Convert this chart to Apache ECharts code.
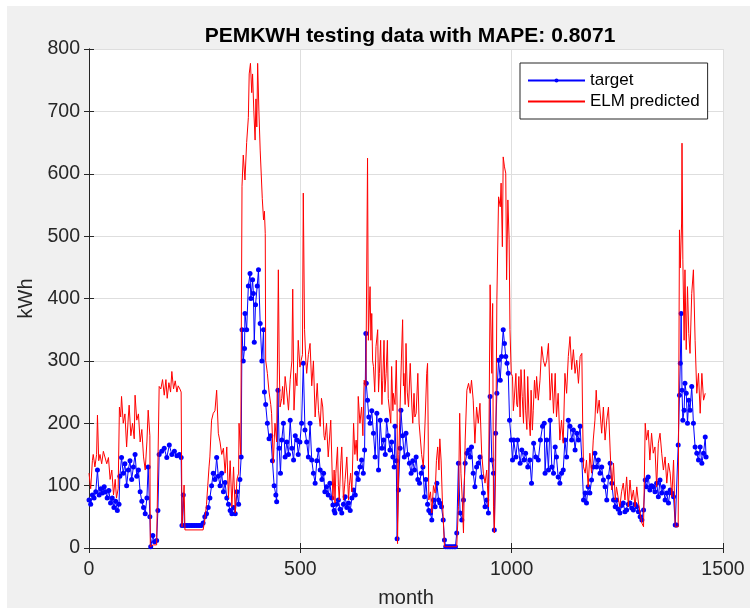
<!DOCTYPE html>
<html><head><meta charset="utf-8">
<script src="https://cdn.jsdelivr.net/npm/echarts@6/dist/echarts.min.js"></script>
<style>html,body{margin:0;padding:0;background:#fff}#c{width:750px;height:610px}</style>
</head><body><div id="c"></div><script>
const titleText = 'PEMKWH testing data with MAPE: 0.8071';
const xTicks = [0, 500, 1000, 1500];
const yTicks = [0, 100, 200, 300, 400, 500, 600, 700, 800];
// [month, kWh]
const target = [
[0,77],[4,70],[8,85],[12,80],[16,90],[20,125],[24,85],[28,95],[32,88],[36,98],[39,90],[43,80],[47,92],[51,72],[55,80],[59,65],[63,75],[67,60],[71,70],[73,115],[77,145],[81,120],[85,135],[89,100],[93,125],[97,140],[101,110],[105,130],[109,150],[113,115],[117,125],[121,90],[125,75],[129,65],[133,55],[137,80],[140,130],[144,50],[146,2],[151,20],[155,10],[160,12],[163,60],[166,150],[172,155],[178,160],[184,145],[190,165],[196,150],[202,155],[208,148],[214,150],[218,145],[220,36],[223,85],[226,36],[230,36],[234,36],[238,36],[242,36],[246,36],[250,36],[254,36],[258,36],[262,36],[266,36],[270,40],[274,50],[278,55],[282,65],[286,80],[290,100],[294,120],[298,110],[302,145],[306,115],[310,100],[314,120],[318,90],[322,105],[326,80],[330,70],[334,60],[338,55],[342,65],[346,55],[350,90],[354,70],[357,110],[360,146],[362,350],[365,300],[368,320],[369,376],[373,350],[377,420],[381,440],[383,400],[387,430],[389,408],[391,330],[394,390],[398,420],[401,446],[405,360],[409,300],[413,350],[415,250],[418,230],[422,200],[426,175],[430,180],[434,140],[438,100],[442,85],[444,74],[447,253],[450,160],[453,120],[456,173],[460,200],[464,146],[468,170],[472,150],[476,205],[480,160],[484,141],[488,180],[492,173],[495,150],[499,170],[503,200],[507,296],[511,189],[515,170],[519,146],[523,200],[527,141],[531,120],[535,104],[539,140],[543,157],[547,125],[551,110],[555,120],[558,90],[562,98],[566,85],[570,104],[574,80],[577,69],[580,60],[582,56],[586,70],[590,77],[594,62],[598,56],[602,70],[606,82],[610,65],[614,72],[618,60],[622,80],[626,93],[630,85],[633,120],[637,110],[641,130],[645,141],[649,120],[652,157],[655,344],[656,264],[659,237],[662,210],[665,200],[669,220],[673,184],[677,146],[681,216],[685,125],[689,205],[693,160],[697,173],[701,150],[704,205],[708,180],[712,157],[716,170],[719,146],[722,130],[724,195],[727,140],[729,15],[732,93],[736,160],[738,221],[742,180],[746,146],[750,184],[754,150],[758,136],[762,120],[766,140],[770,125],[774,146],[778,110],[782,104],[786,120],[790,130],[794,82],[797,110],[801,70],[804,60],[808,56],[811,45],[815,77],[819,66],[823,104],[827,77],[830,72],[834,66],[838,45],[841,13],[844,2],[848,2],[852,2],[856,2],[860,2],[864,2],[867,2],[870,24],[874,136],[878,56],[882,45],[886,77],[890,136],[894,152],[898,157],[902,146],[905,162],[909,120],[913,98],[917,130],[921,136],[925,146],[929,114],[933,88],[937,66],[941,77],[945,56],[949,243],[953,141],[957,120],[959,29],[962,184],[965,248],[969,301],[973,269],[976,307],[980,350],[983,328],[986,307],[989,296],[992,280],[995,205],[999,173],[1002,141],[1005,173],[1010,146],[1014,173],[1020,136],[1024,157],[1029,141],[1033,152],[1038,130],[1043,141],[1047,104],[1052,168],[1057,146],[1063,141],[1068,173],[1073,195],[1077,200],[1079,120],[1083,173],[1087,125],[1091,205],[1095,130],[1099,120],[1103,162],[1106,146],[1110,114],[1114,104],[1118,120],[1122,125],[1126,173],[1130,146],[1134,205],[1138,195],[1142,173],[1146,189],[1150,157],[1154,184],[1158,173],[1162,195],[1166,141],[1170,77],[1174,88],[1177,72],[1181,98],[1185,88],[1189,109],[1193,130],[1197,152],[1201,130],[1205,141],[1209,120],[1213,130],[1217,109],[1221,98],[1225,77],[1229,114],[1233,136],[1237,104],[1241,77],[1245,66],[1248,77],[1252,62],[1256,56],[1260,68],[1264,72],[1268,58],[1272,61],[1276,70],[1280,72],[1284,64],[1288,61],[1292,70],[1296,66],[1300,58],[1304,50],[1308,45],[1312,61],[1316,109],[1319,98],[1323,114],[1327,93],[1331,100],[1335,98],[1339,90],[1343,104],[1347,82],[1351,109],[1355,88],[1359,98],[1363,77],[1367,88],[1371,72],[1375,93],[1379,88],[1383,82],[1387,37],[1390,37],[1394,165],[1397,245],[1399,296],[1401,376],[1403,253],[1405,205],[1408,221],[1410,264],[1413,248],[1416,200],[1419,237],[1422,221],[1426,259],[1430,200],[1434,162],[1438,152],[1442,141],[1446,162],[1450,136],[1454,152],[1458,178],[1460,146]
];
const predicted = [
[0,120],[4,95],[8,140],[10,150],[14,130],[18,150],[20,213],[23,140],[26,150],[30,135],[34,155],[38,157],[42,135],[46,145],[50,110],[54,125],[58,85],[62,110],[65,80],[69,95],[72,226],[75,210],[77,243],[81,200],[85,215],[89,162],[93,210],[95,229],[99,180],[103,200],[107,175],[109,245],[113,205],[117,215],[121,170],[125,190],[129,146],[133,125],[137,170],[140,221],[144,180],[145,2],[152,5],[160,5],[164,5],[166,259],[170,255],[174,270],[178,245],[182,270],[185,240],[189,265],[193,250],[196,283],[200,255],[204,268],[208,250],[211,260],[215,255],[218,250],[220,34],[225,101],[227,29],[270,29],[274,45],[278,70],[281,100],[284,130],[286,146],[290,205],[294,216],[298,220],[302,253],[306,184],[310,170],[314,150],[318,160],[322,120],[326,162],[330,80],[334,140],[338,66],[342,130],[346,56],[350,110],[354,120],[355,200],[359,150],[362,580],[365,630],[369,590],[373,650],[377,690],[379,760],[382,777],[385,730],[387,760],[390,700],[393,654],[395,720],[397,675],[399,777],[402,700],[405,638],[407,640],[410,560],[413,526],[415,540],[417,504],[418,301],[422,280],[426,250],[430,230],[432,216],[436,136],[440,200],[444,170],[448,446],[450,300],[452,226],[456,240],[458,259],[461,230],[464,275],[468,250],[472,221],[476,270],[480,300],[482,415],[485,221],[489,280],[492,260],[495,333],[499,290],[502,301],[505,310],[507,569],[510,350],[513,300],[515,280],[519,310],[523,328],[527,260],[531,300],[535,210],[540,264],[543,220],[547,195],[550,240],[553,226],[556,180],[558,173],[562,200],[566,146],[572,205],[577,77],[580,125],[582,72],[584,120],[588,162],[590,100],[592,77],[596,140],[598,162],[602,77],[606,110],[610,146],[614,77],[616,100],[619,120],[622,90],[626,200],[629,150],[632,173],[635,140],[637,243],[641,200],[645,226],[648,180],[651,269],[655,259],[659,625],[661,333],[663,380],[665,419],[667,333],[669,376],[671,300],[673,291],[676,250],[679,323],[683,350],[685,250],[687,280],[690,333],[693,230],[695,269],[698,333],[700,250],[703,280],[706,333],[708,240],[711,243],[714,200],[716,291],[719,220],[720,248],[724,230],[727,301],[729,226],[730,7],[733,150],[736,226],[739,300],[742,366],[744,260],[745,280],[748,230],[750,328],[753,250],[756,226],[760,296],[764,226],[766,200],[769,248],[771,210],[774,216],[778,280],[781,200],[783,200],[787,150],[791,130],[795,200],[799,280],[801,296],[804,77],[808,90],[811,56],[815,100],[819,88],[822,140],[825,162],[828,125],[830,175],[833,141],[836,77],[838,50],[841,2],[850,2],[858,2],[870,2],[874,66],[877,216],[880,120],[883,80],[886,24],[888,100],[890,173],[894,253],[898,264],[902,248],[905,269],[909,237],[913,168],[917,226],[921,200],[925,232],[929,152],[933,120],[937,104],[941,125],[945,66],[949,422],[953,280],[955,392],[957,66],[959,24],[962,120],[965,398],[969,563],[973,547],[975,585],[978,483],[980,627],[983,611],[986,601],[988,430],[991,558],[994,494],[996,350],[999,280],[1002,275],[1004,220],[1006,237],[1010,280],[1012,230],[1014,226],[1017,275],[1020,210],[1022,286],[1025,243],[1028,200],[1030,286],[1033,221],[1036,190],[1038,275],[1041,210],[1044,180],[1046,253],[1049,189],[1051,220],[1054,269],[1057,240],[1059,275],[1063,237],[1067,269],[1071,323],[1075,301],[1079,291],[1083,301],[1087,328],[1091,237],[1095,280],[1099,216],[1103,280],[1106,210],[1110,248],[1114,173],[1118,205],[1122,168],[1126,280],[1130,248],[1134,307],[1138,339],[1142,286],[1146,318],[1150,280],[1154,301],[1158,264],[1162,307],[1166,312],[1168,200],[1170,130],[1174,120],[1177,141],[1181,98],[1185,152],[1189,120],[1193,173],[1197,205],[1200,253],[1203,216],[1207,237],[1213,184],[1217,226],[1221,173],[1225,205],[1229,226],[1233,157],[1237,93],[1241,136],[1245,77],[1248,98],[1252,80],[1256,66],[1260,90],[1264,104],[1268,77],[1272,114],[1276,66],[1280,109],[1284,77],[1288,93],[1292,66],[1296,98],[1300,72],[1304,56],[1308,40],[1312,34],[1316,200],[1319,173],[1323,189],[1327,141],[1331,184],[1335,152],[1339,162],[1343,98],[1347,168],[1351,184],[1355,152],[1359,125],[1363,146],[1367,104],[1371,136],[1375,120],[1379,82],[1383,141],[1387,34],[1390,32],[1394,34],[1397,510],[1399,449],[1402,521],[1403,649],[1405,462],[1408,333],[1410,446],[1413,318],[1416,419],[1419,344],[1422,312],[1426,408],[1430,446],[1434,333],[1438,248],[1442,280],[1446,216],[1450,280],[1454,237],[1458,248]
];

const FONT = '"Liberation Sans", Arial, Helvetica, sans-serif';
const axisCol = '#262626';
const gridCol = '#dedede';

const chart = echarts.init(document.getElementById('c'), null, {renderer: 'canvas'});
const common = {
  min: 0,
  axisLine: {show: true, lineStyle: {color: axisCol, width: 1}},
  axisTick: {show: true, inside: true, length: 5, lineStyle: {color: axisCol}},
};
chart.setOption({
  animation: false,
  backgroundColor: '#ffffff',
  graphic: [{type: 'rect', silent: true, z: -100, shape: {x: 7, y: 6, width: 743, height: 602}, style: {fill: '#f0f0f0'}}],
  title: {
    text: titleText, left: 405, top: 21, textAlign: 'center',
    textStyle: {fontFamily: FONT, fontSize: 21, fontWeight: 'bold', color: '#000'}
  },
  legend: {
    left: 520, top: 63, orient: 'vertical', itemWidth: 57, itemHeight: 5, itemGap: 4,
    padding: [9, 8, 9, 7], borderColor: axisCol, borderWidth: 1, backgroundColor: '#fff',
    textStyle: {fontFamily: FONT, fontSize: 17, color: '#000'},
    data: [
      {name: 'target'},
      {name: 'ELM predicted', itemStyle: {color: 'rgba(0,0,0,0)', borderWidth: 0}}
    ]
  },
  grid: {left: 89, right: 27, top: 49, bottom: 62, show: true, backgroundColor: '#fff', borderWidth: 0,
    containLabel: false, outerBoundsMode: 'none'},
  xAxis: [
    Object.assign({}, common, {
      type: 'value', max: 1500, interval: 500, position: 'bottom',
      name: 'month', nameLocation: 'middle', nameGap: 40,
      nameTextStyle: {fontFamily: FONT, fontSize: 20, color: axisCol},
      axisLabel: {show: true, margin: 12, fontFamily: FONT, fontSize: 19.5, color: axisCol,
        formatter: v => xTicks.indexOf(v) >= 0 ? String(v) : ''},
      splitLine: {show: true, lineStyle: {color: gridCol, width: 1}}
    }),
    Object.assign({}, common, {
      type: 'value', max: 1500, interval: 500, position: 'top',
      axisLabel: {show: false}, splitLine: {show: false}
    })
  ],
  yAxis: [
    Object.assign({}, common, {
      type: 'value', max: 800, interval: 100, position: 'left',
      name: 'kWh', nameLocation: 'middle', nameGap: 49,
      nameTextStyle: {fontFamily: FONT, fontSize: 20, color: axisCol},
      axisLabel: {show: true, margin: 9, fontFamily: FONT, fontSize: 19.5, color: axisCol,
        formatter: v => yTicks.indexOf(v) >= 0 ? String(v) : ''},
      splitLine: {show: true, lineStyle: {color: gridCol, width: 1}}
    }),
    Object.assign({}, common, {
      type: 'value', max: 800, interval: 100, position: 'right',
      axisLabel: {show: false}, splitLine: {show: false}
    })
  ],
  series: [
    {
      name: 'target', type: 'line', data: target, xAxisIndex: 0, yAxisIndex: 0,
      symbol: 'circle', symbolSize: 5, showSymbol: true, showAllSymbol: true,
      lineStyle: {color: '#0000ff', width: 1}, itemStyle: {color: '#0000ff'}, z: 2
    },
    {
      name: 'ELM predicted', type: 'line', data: predicted, xAxisIndex: 0, yAxisIndex: 0,
      symbol: 'none', lineStyle: {color: '#ff0000', width: 1}, itemStyle: {color: '#ff0000'}, z: 3
    }
  ]
});
</script></body></html>
